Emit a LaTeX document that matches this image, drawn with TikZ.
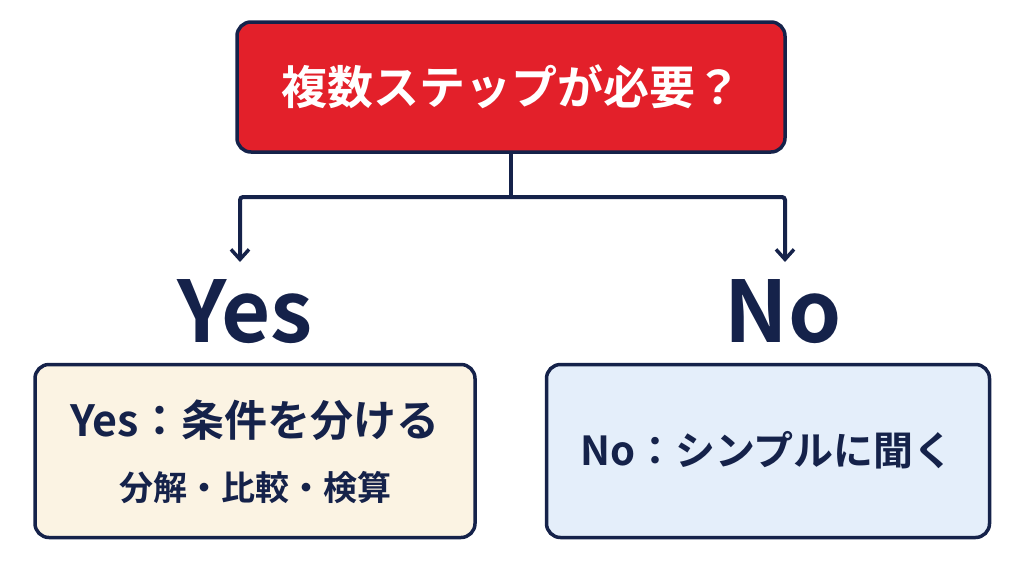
\documentclass[tikz,border=0pt]{standalone}
\usepackage{fontspec}
\setmainfont{Noto Sans CJK JP}[BoldFont={* Bold}]
\usetikzlibrary{arrows.meta}
\definecolor{navy}{HTML}{15224A}
\definecolor{redf}{HTML}{E3202A}
\definecolor{cream}{HTML}{FBF3E3}
\definecolor{lblue}{HTML}{E4EEFA}
\begin{document}
\begin{tikzpicture}[x=1pt,y=-1pt,
 box/.style={draw=navy,line width=3.5pt,rounded corners=14pt},
 conn/.style={draw=navy,line width=4pt,-{Straight Barb[length=10pt,width=18pt,line width=3.5pt]}},
 big/.style={text=navy,font=\bfseries\fontsize{85}{85}\selectfont}]
\useasboundingbox (0,0) rectangle (1024,576);
\node[box,fill=redf,minimum width=548pt,minimum height=130pt] (q) at (511,87)
 {\color{white}\bfseries\fontsize{46}{48}\selectfont 複数ステップが必要？};
\coordinate (j) at (511,197);
\coordinate (jl) at (240,197);
\coordinate (jr) at (785,197);
\coordinate (al) at (240,262);
\coordinate (ar) at (785,262);
\draw[draw=navy,line width=4pt] (q.south) -- (j);
\draw[conn,rounded corners=3pt] (j) -- (jl) -- (al);
\draw[conn,rounded corners=3pt] (j) -- (jr) -- (ar);
\node[big] (yes) at (245,312) {Yes};
\node[big] (no) at (783,312) {No};
\node[box,fill=cream,minimum width=440pt,minimum height=173pt] (lb) at (255,451) {};
\node[text=navy,font=\bfseries\fontsize{43}{45}\selectfont] (lt) at (255,420) {Yes：条件を分ける};
\node[text=navy,font=\bfseries\fontsize{34}{36}\selectfont] (ls) at (255,488) {分解・比較・検算};
\node[box,fill=lblue,minimum width=443pt,minimum height=173pt] (rb) at (768,451) {};
\node[text=navy,font=\bfseries\fontsize{40}{42}\selectfont] (rt) at (767,450) {No：シンプルに聞く};
\end{tikzpicture}
\end{document}
